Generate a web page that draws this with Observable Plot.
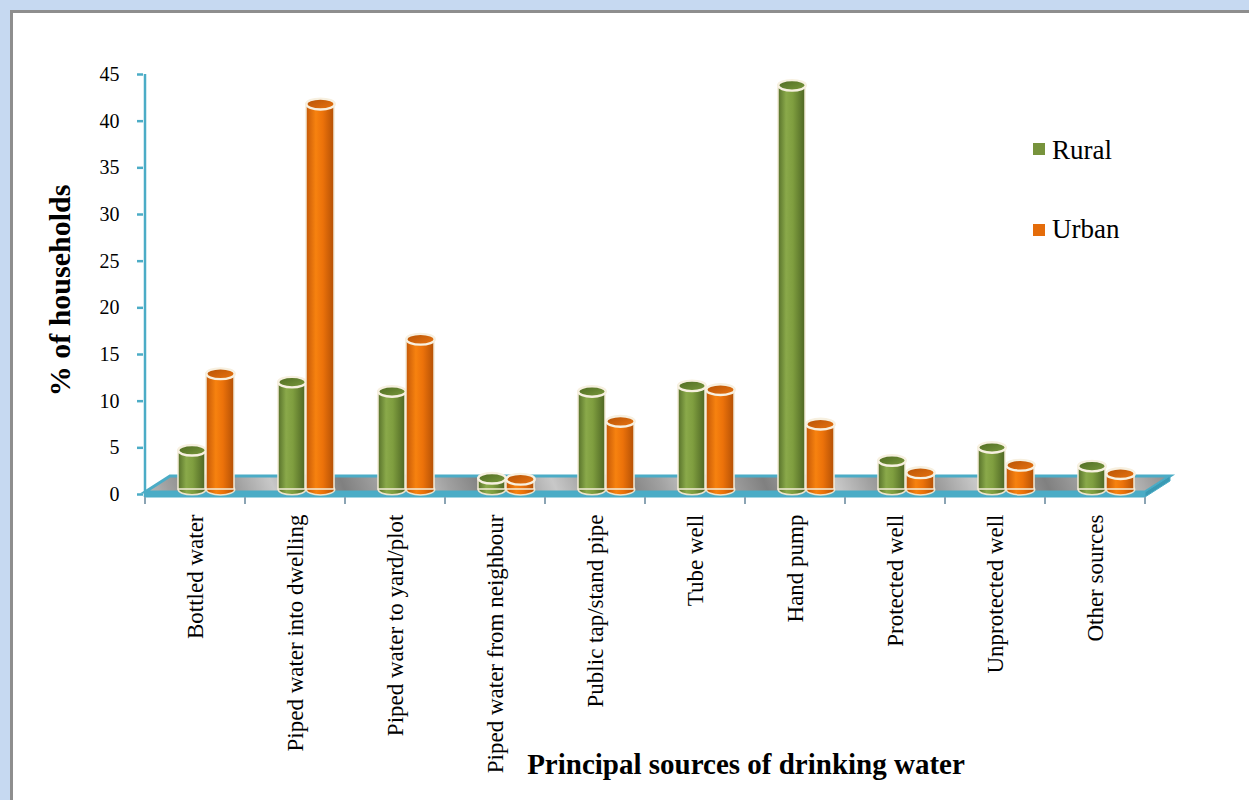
<!DOCTYPE html>
<html><head><meta charset="utf-8">
<script src="https://cdn.jsdelivr.net/npm/d3@7"></script>
<script src="https://cdn.jsdelivr.net/npm/@observablehq/plot@0.6"></script>
<style>
html,body{margin:0;padding:0;background:#c6d9f1;width:1249px;height:800px;overflow:hidden;font-family:"Liberation Serif","Times New Roman",serif}
#panel{position:absolute;left:10px;top:10px;width:1260px;height:820px;background:#fff;border:3px solid #8e8e8e;box-sizing:border-box}
#chart{position:absolute;left:0;top:0}
.sw{position:absolute;width:12px;height:12px}
.lt{position:absolute;font-size:27px;line-height:1;color:#000}
</style></head>
<body>
<div id="panel"></div>
<div id="chart"></div>
<div class="sw" style="left:1033px;top:143px;background:#77933c"></div>
<div class="lt" style="left:1052px;top:137px">Rural</div>
<div class="sw" style="left:1033px;top:224px;background:#e46c0a"></div>
<div class="lt" style="left:1052px;top:216px">Urban</div>
<script>
const categories = ["Bottled water","Piped water into dwelling","Piped water to yard/plot","Piped water from neighbour","Public tap/stand pipe","Tube well","Hand pump","Protected well","Unprotected well","Other sources"];
const rural = [4.2, 11.5, 10.5, 1.2, 10.5, 11.1, 43.3, 3.1, 4.5, 2.5];
const urban = [12.4, 41.3, 16.1, 1.1, 7.3, 10.7, 7.0, 1.8, 2.6, 1.7];
const yTicks = [0,5,10,15,20,25,30,35,40,45];
const yLabel = "% of households";
const xLabel = "Principal sources of drinking water";

const ruralData = categories.map((c,i)=>({cat:c, v:rural[i]}));
const urbanData = categories.map((c,i)=>({cat:c, v:urban[i]}));

const ellipse = {draw(ctx, size){
  const r = Math.sqrt(size/Math.PI), ry = r*0.38, k = 0.5523;
  ctx.moveTo(r,0);
  ctx.bezierCurveTo(r, ry*k, r*k, ry, 0, ry);
  ctx.bezierCurveTo(-r*k, ry, -r, ry*k, -r, 0);
  ctx.bezierCurveTo(-r, -ry*k, -r*k, -ry, 0, -ry);
  ctx.bezierCurveTo(r*k, -ry, r, -ry*k, r, 0);
  ctx.closePath();
}};

const BASE_DY = -5;
const floorMark = Plot.frame({stroke:"none", render: (index, scales, values, dim) => {
  const x = scales.x, y = scales.y;
  const x0 = x(categories[0]), x1 = x(categories[categories.length-1]) + x.bandwidth();
  const y0 = y(0);
  const g = d3.create("svg:g");
  const ox = 25, oy = 16;
  g.append("path").attr("d", `M${x0},${y0-2}L${x0+ox},${y0-2-oy}L${x1+ox},${y0-2-oy}L${x1},${y0-2}Z`)
    .attr("fill","url(#floorG)").attr("stroke","#4bacc6").attr("stroke-width",3);
  g.append("path").attr("d", `M${x0},${y0-2}L${x1},${y0-2}L${x1},${y0+3}L${x0},${y0+3}Z`)
    .attr("fill","#4bacc6").attr("stroke","#4bacc6").attr("stroke-width",1);
  g.append("path").attr("d", `M${x1},${y0-2}L${x1+ox},${y0-2-oy}L${x1+ox},${y0+3-oy}L${x1},${y0+3}Z`)
    .attr("fill","#3a9ab4").attr("stroke","#4bacc6").attr("stroke-width",1);
  for (let i = 0; i <= categories.length; i++) {
    const xx = i < categories.length ? x(categories[i]) : x1;
    g.append("line").attr("x1",xx).attr("x2",xx).attr("y1",y0+3).attr("y2",y0+10)
      .attr("stroke","#8aa4b4").attr("stroke-width",2);
  }
  g.append("line").attr("x1",x0).attr("x2",x0).attr("y1",y(45)).attr("y2",y0+3)
    .attr("stroke","#4bacc6").attr("stroke-width",2.5);
  return g.node();
}});

function cyl(data, grad, topFill, insetL, insetR, r) {
  const dx = (insetL - insetR)/2;
  return [
    Plot.dot(data, {x:"cat", y: () => 0, dx, dy: BASE_DY, r, symbol: ellipse, fill: grad, stroke:"#eee4cc", strokeWidth:1.5}),
    Plot.barY(data, {x:"cat", dy: BASE_DY, y:"v", insetLeft: insetL, insetRight: insetR, fill: grad, stroke:"#f4ecd8", strokeWidth:1.5}),
    Plot.dot(data, {x:"cat", y:"v", dx, dy: BASE_DY, r, symbol: ellipse, fill: topFill, stroke:"#f7f0e0", strokeWidth:2.4})
  ];
}

const plot = Plot.plot({
  width: 1249, height: 800,
  marginLeft: 143, marginRight: 103, marginTop: 74, marginBottom: 306,
  style: {background:"transparent", fontFamily:"'Liberation Serif','Times New Roman',serif", color:"#000", overflow:"visible"},
  x: {domain: categories, padding: 0, axis: null},
  y: {domain: [0,45], axis: null},
  marks: [
    floorMark,
    Plot.axisY({ticks: yTicks, tickSize: 6, tickPadding: 18, stroke:"#4bacc6", strokeWidth:2.5, fontSize: 20, label: null, tickFormat: d => d}),
    Plot.axisX({tickSize: 0, tickPadding: 20, tickRotate: -90, fontSize: 23, label: null, style:{letterSpacing:"1.9px"}}),
    ...cyl(ruralData, "url(#gR)", "url(#gRt)", 33, 40, 13.8),
    ...cyl(urbanData, "url(#gU)", "url(#gUt)", 61, 11, 14.2),
    Plot.text([yLabel], {frameAnchor:"left", textAnchor:"middle", text: d => d, rotate:-90, dx:-83, dy:6, fontSize:30, fontWeight:"bold"}),
    Plot.text([xLabel], {frameAnchor:"bottom", text: d => d, dx:101, dy:279, fontSize:29, fontWeight:"bold", style:{wordSpacing:"-3px"}})
  ]
});

d3.select(plot).insert("defs", ":first-child").html(`
<linearGradient id="gR" x1="0" x2="1" y1="0" y2="0">
  <stop offset="0" stop-color="#56702a"/><stop offset="0.3" stop-color="#8aa94a"/><stop offset="0.55" stop-color="#7f9e3f"/><stop offset="1" stop-color="#4e6624"/>
</linearGradient>
<linearGradient id="gRt" x1="0" x2="1" y1="0" y2="1">
  <stop offset="0" stop-color="#4f6a22"/><stop offset="1" stop-color="#7a9a3c"/>
</linearGradient>
<linearGradient id="gU" x1="0" x2="1" y1="0" y2="0">
  <stop offset="0" stop-color="#c45808"/><stop offset="0.35" stop-color="#f7820f"/><stop offset="0.6" stop-color="#ec720a"/><stop offset="1" stop-color="#b35006"/>
</linearGradient>
<linearGradient id="gUt" x1="0" x2="1" y1="0" y2="1">
  <stop offset="0" stop-color="#b55206"/><stop offset="1" stop-color="#ea7410"/>
</linearGradient>
<linearGradient id="floorG" gradientUnits="userSpaceOnUse" x1="0" y1="0" x2="60" y2="-25" spreadMethod="reflect">
  <stop offset="0" stop-color="#808080"/><stop offset="0.5" stop-color="#a0a0a0"/><stop offset="1" stop-color="#c8c8c8"/>
</linearGradient>`);

document.getElementById("chart").appendChild(plot);
</script>
</body></html>
